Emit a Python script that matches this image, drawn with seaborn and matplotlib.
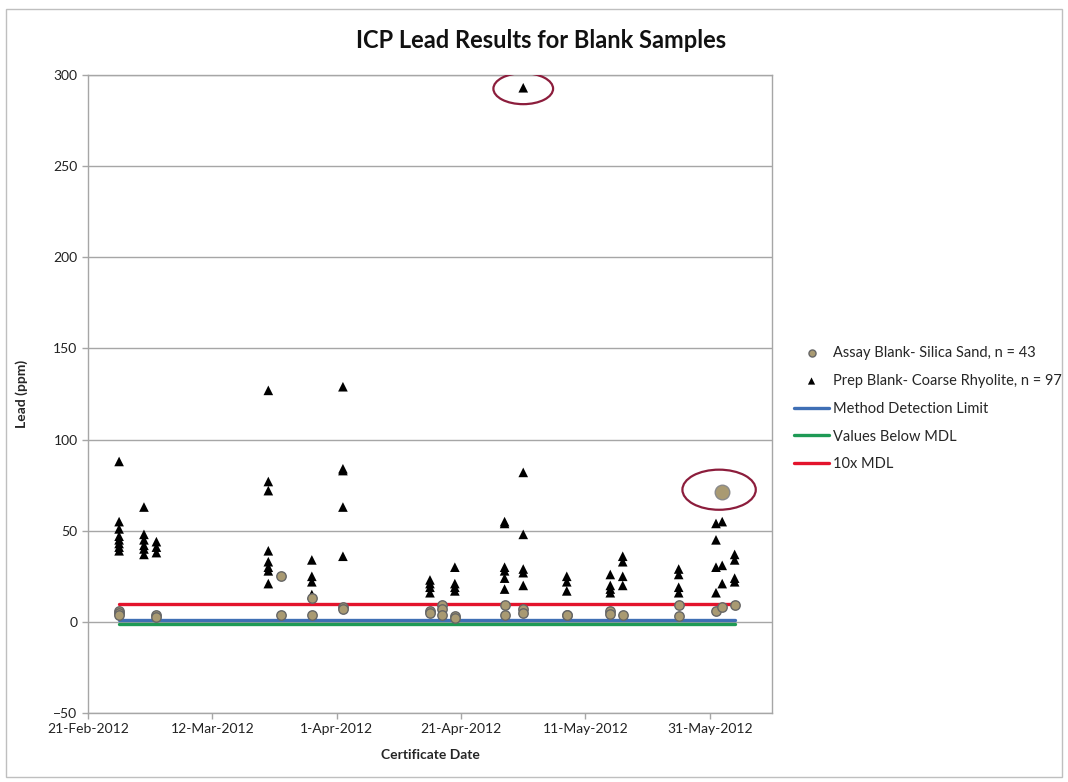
import matplotlib
matplotlib.use("Agg")
import matplotlib.pyplot as plt
import matplotlib.dates as mdates
from matplotlib.patches import Ellipse, Rectangle
import seaborn as sns
import pandas as pd

# ---------------- data ----------------
prep_dates = ["2012-02-26", "2012-03-01", "2012-03-03", "2012-03-21", "2012-03-28",
              "2012-04-02", "2012-04-16", "2012-04-20", "2012-04-28", "2012-05-01",
              "2012-05-08", "2012-05-15", "2012-05-17", "2012-05-26", "2012-06-01",
              "2012-06-02", "2012-06-04"]
prep_values = [[88, 55, 51, 47, 45, 43, 41, 39],
               [63, 48, 45, 42, 40, 37],
               [44, 41, 38],
               [127, 77, 72, 39, 33, 30, 28, 21],
               [34, 25, 22, 15],
               [129, 84, 83, 63, 36],
               [23, 21, 19, 16],
               [30, 21, 19, 17],
               [55, 54, 30, 28, 24, 18],
               [293, 82, 48, 29, 27, 20],
               [25, 22, 17],
               [26, 20, 18, 16],
               [36, 33, 25, 20],
               [29, 26, 19, 16],
               [54, 45, 30, 16],
               [55, 31, 21],
               [37, 34, 24, 22]]

assay_dates = ["2012-02-26", "2012-03-03", "2012-03-23", "2012-03-28", "2012-04-02",
               "2012-04-16", "2012-04-18", "2012-04-20", "2012-04-28", "2012-05-01",
               "2012-05-08", "2012-05-15", "2012-05-17", "2012-05-26", "2012-06-01",
               "2012-06-02", "2012-06-04"]
assay_values = [[6, 5, 4],
                [4, 2.5],
                [25, 3.5],
                [13, 3.5],
                [8, 7],
                [6, 5],
                [9, 7, 4],
                [3, 2],
                [9, 3.5],
                [7, 5],
                [4, 3.5],
                [6, 4.5],
                [3.5],
                [9.5, 3],
                [6],
                [8, 71],
                [9]]

line_dates = ["2012-02-26", "2012-06-04"]
mdl_level = 1
below_mdl_level = -1
ten_mdl_level = 10

y_ticks = [-50, 0, 50, 100, 150, 200, 250, 300]
x_ticks = ["2012-02-21", "2012-03-12", "2012-04-01", "2012-04-21", "2012-05-11", "2012-05-31"]

label_assay = "Assay Blank- Silica Sand, n = 43"
label_prep = "Prep Blank- Coarse Rhyolite, n = 97"
label_mdl = "Method Detection Limit"
label_below = "Values Below MDL"
label_ten = "10x MDL"

# ---------------- frames ----------------
def explode(dates, values):
    rows = [(pd.Timestamp(d), v) for d, vs in zip(dates, values) for v in vs]
    return pd.DataFrame(rows, columns=["date", "lead"])

prep_df = explode(prep_dates, prep_values)
assay_df = explode(assay_dates, assay_values)
big = assay_df["lead"] > 50
lines_df = pd.DataFrame({
    "date": [pd.Timestamp(d) for d in line_dates] * 3,
    "lead": [mdl_level] * 2 + [below_mdl_level] * 2 + [ten_mdl_level] * 2,
    "kind": [label_mdl] * 2 + [label_below] * 2 + [label_ten] * 2,
})

# ---------------- plot ----------------
sns.set_theme(style="white")
plt.rcParams["font.family"] = ["Lato", "DejaVu Sans"]

fig = plt.figure(figsize=(10.68, 7.82), dpi=100)
ax = fig.add_axes([0.0824, 0.0882, 0.6404, 0.8159])

sns.lineplot(data=lines_df, x="date", y="lead", hue="kind",
             palette={label_mdl: "#3f6fb5", label_below: "#1e9a55", label_ten: "#e3132c"},
             linewidth=2.4, ax=ax, legend=True, zorder=2)

sns.scatterplot(data=prep_df, x="date", y="lead", marker="^", color="black",
                s=48, edgecolor="none", ax=ax, label=label_prep, zorder=3)
sns.scatterplot(data=assay_df[~big], x="date", y="lead", marker="o", color="#a99a72",
                s=46, edgecolor="#666666", linewidth=1.0, ax=ax, label=label_assay, zorder=4)
sns.scatterplot(data=assay_df[big], x="date", y="lead", marker="o", color="#a99a72",
                s=110, edgecolor="#8a8a8a", linewidth=1.0, ax=ax, legend=False, zorder=4)

# highlight ellipses
ax.add_patch(Ellipse((mdates.date2num(pd.Timestamp("2012-05-01")), 292.5), 9.6, 17,
                     fill=False, edgecolor="#8c1d3c", linewidth=1.6, zorder=5))
ax.add_patch(Ellipse((mdates.date2num(pd.Timestamp("2012-06-01 12:00")), 72.5), 11.8, 22,
                     fill=False, edgecolor="#8c1d3c", linewidth=1.6, zorder=5))

# axes
ax.set_ylim(-50, 300)
ax.set_xlim(pd.Timestamp("2012-02-21"), pd.Timestamp("2012-06-10"))
ax.set_yticks(y_ticks)
ax.set_xticks([pd.Timestamp(d) for d in x_ticks])
ax.xaxis.set_major_formatter(mdates.DateFormatter("%-d-%b-%Y"))
ax.yaxis.grid(True, color="#a6a6a6", linewidth=1.0)
ax.xaxis.grid(False)
ax.set_axisbelow(True)
for s in ax.spines.values():
    s.set_color("#a6a6a6")
    s.set_linewidth(1.0)
ax.tick_params(axis="both", which="major", labelsize=10, length=4, width=1,
               direction="out", left=True, bottom=True, colors="#a6a6a6",
               labelcolor="#222222")
ax.set_xlabel("Certificate Date", fontsize=10, fontweight="bold", labelpad=10)
ax.set_ylabel("Lead (ppm)", fontsize=10, fontweight="bold", labelpad=18)

# legend
handles, labels = ax.get_legend_handles_labels()
hmap = dict(zip(labels, handles))
order = [label_assay, label_prep, label_mdl, label_below, label_ten]
leg = ax.legend([hmap[k] for k in order], order, loc="upper left",
                bbox_to_anchor=(0.738, 0.565), bbox_transform=fig.transFigure,
                frameon=False, fontsize=10.5, handlelength=2.4, labelspacing=0.95,
                handletextpad=0.3, borderaxespad=0, markerscale=0.75)

fig.text(0.507, 0.948, "ICP Lead Results for Blank Samples", ha="center", va="center",
         fontsize=17, fontweight="bold", color="#111111")

fig.patches.append(Rectangle((0.006, 0.006), 0.988, 0.982, transform=fig.transFigure,
                             fill=False, edgecolor="#bfbfbf", linewidth=1.0))

fig.savefig("out.png", dpi=100)
